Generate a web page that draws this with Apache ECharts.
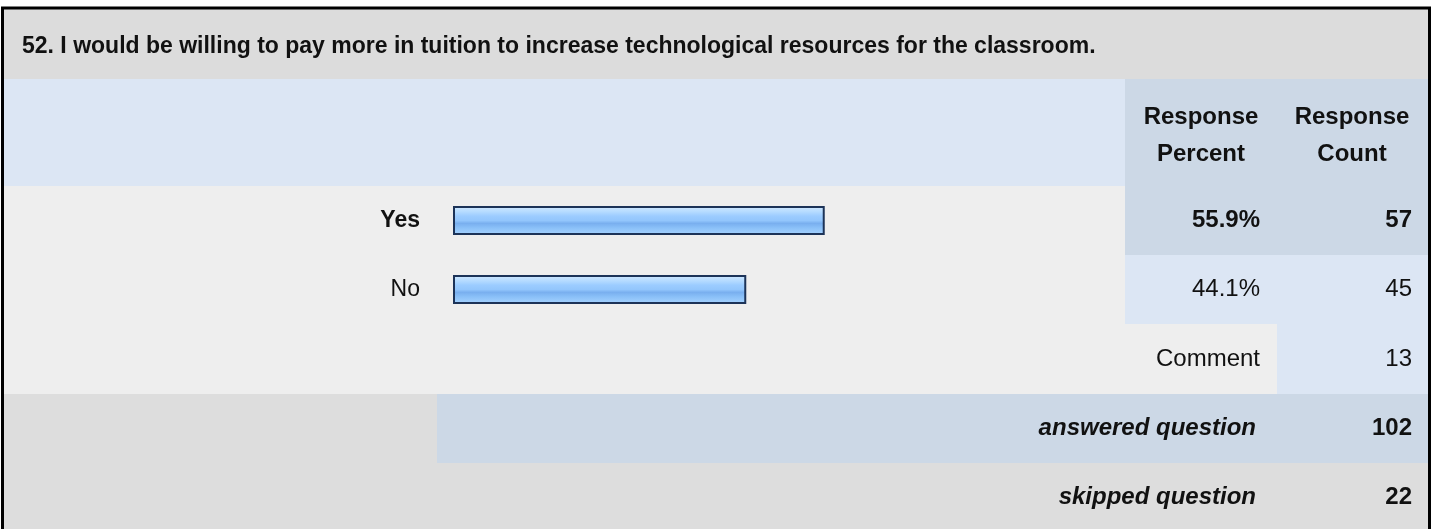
<!DOCTYPE html>
<html>
<head>
<meta charset="utf-8">
<style>
  html, body { margin: 0; padding: 0; background: #fff; }
  #chart { width: 1432px; height: 529px; }
</style>
<script src="https://cdn.jsdelivr.net/npm/echarts@6/dist/echarts.min.js"></script>
</head>
<body>
<div id="chart"></div>
<script>
// data
var question = '52. I would be willing to pay more in tuition to increase technological resources for the classroom.';
var answers = ['Yes', 'No'];
var percents = [55.9, 44.1];
var counts = [57, 45];
var headPercent = ['Response', 'Percent'];
var headCount = ['Response', 'Count'];
var commentCount = 13;
var answered = 102;
var skipped = 22;

var FONT = '"Liberation Sans", Arial, sans-serif';
var SIZE = 23;

var chart = echarts.init(document.getElementById('chart'));

// table backgrounds
function cell(x1, y1, x2, y2, color) {
    return { type: 'rect', silent: true, z: -10,
        shape: { x: x1, y: y1, width: x2 - x1, height: y2 - y1 },
        style: { fill: color } };
}
function txt(x, y, s, align, weight, style, size) {
    return { type: 'text', x: x, y: y, z: 5, silent: true,
        style: { text: s, fill: '#111', font: (style || 'normal') + ' ' + (weight || 'normal') + ' ' + (size || 24) + 'px ' + FONT,
            textAlign: align, textVerticalAlign: 'middle' } };
}

var rowY = [186, 255, 324, 394, 463, 529];
var colP = 1125, colC = 1277, R = 1428;
var graphics = [
    cell(4, 9, R, 79, '#dcdcdc'),
    cell(4, 79, colP, 186, '#dce6f4'),
    cell(colP, 79, R, 186, '#ccd8e6'),
    cell(4, 186, colP, 394, '#eeeeee'),
    cell(colP, 186, R, 255, '#ccd8e6'),
    cell(colP, 255, R, 324, '#dce6f4'),
    cell(colP, 324, colC, 394, '#eeeeee'),
    cell(colC, 324, R, 394, '#dce6f4'),
    cell(4, 394, 437, 463, '#dddddd'),
    cell(437, 394, R, 463, '#ccd8e6'),
    cell(4, 463, R, 529, '#dddddd'),
    { type: 'rect', silent: true, z: 20,
      shape: { x: 2.5, y: 8, width: 1427, height: 540 },
      style: { fill: null, stroke: '#000', lineWidth: 3 } },
    txt(22, 47, question, 'left', 'bold', null, 23),
    txt(1201, 117, headPercent[0], 'center', 'bold'),
    txt(1201, 154, headPercent[1], 'center', 'bold'),
    txt(1352, 117, headCount[0], 'center', 'bold'),
    txt(1352, 154, headCount[1], 'center', 'bold')
];
for (var i = 0; i < answers.length; i++) {
    var cy = (rowY[i] + rowY[i + 1]) / 2;
    var w = i === 0 ? 'bold' : 'normal';
    graphics.push(txt(1260, cy, percents[i].toFixed(1) + '%', 'right', w));
    graphics.push(txt(1412, cy, String(counts[i]), 'right', w));
}
graphics.push(txt(1260, 359, 'Comment', 'right'));
graphics.push(txt(1412, 359, String(commentCount), 'right'));
graphics.push(txt(1256, 428, 'answered question', 'right', 'bold', 'italic'));
graphics.push(txt(1412, 428, String(answered), 'right', 'bold'));
graphics.push(txt(1256, 497, 'skipped question', 'right', 'bold', 'italic'));
graphics.push(txt(1412, 497, String(skipped), 'right', 'bold'));

var option = {
    animation: false,
    grid: { left: 453, width: 665, top: 186, height: 138 },
    xAxis: {
        type: 'value', min: 0, max: 100, show: false
    },
    yAxis: {
        type: 'category',
        inverse: true,
        data: answers,
        axisLine: { show: false },
        axisTick: { show: false },
        axisLabel: {
            margin: 33,
            color: '#111',
            fontFamily: FONT,
            fontSize: SIZE,
            formatter: function (v, idx) {
                return idx === 0 ? '{b|' + v + '}' : '{n|' + v + '}';
            },
            rich: {
                b: { fontWeight: 'bold', fontSize: SIZE, fontFamily: FONT, color: '#111' },
                n: { fontWeight: 'normal', fontSize: SIZE, fontFamily: FONT, color: '#111' }
            }
        }
    },
    series: [{
        type: 'bar',
        data: percents,
        barWidth: 29,
        itemStyle: {
            borderColor: '#1c3358',
            borderWidth: 2,
            color: new echarts.graphic.LinearGradient(0, 0, 0, 1, [
                { offset: 0, color: '#d2e9ff' },
                { offset: 0.2, color: '#b5dbff' },
                { offset: 0.35, color: '#9cccff' },
                { offset: 0.5, color: '#93c6fc' },
                { offset: 0.6, color: '#79afef' },
                { offset: 0.75, color: '#8ac0f8' },
                { offset: 1, color: '#a8d4ff' }
            ])
        }
    }],
    graphic: graphics
};
chart.setOption(option);
</script>
</body>
</html>
